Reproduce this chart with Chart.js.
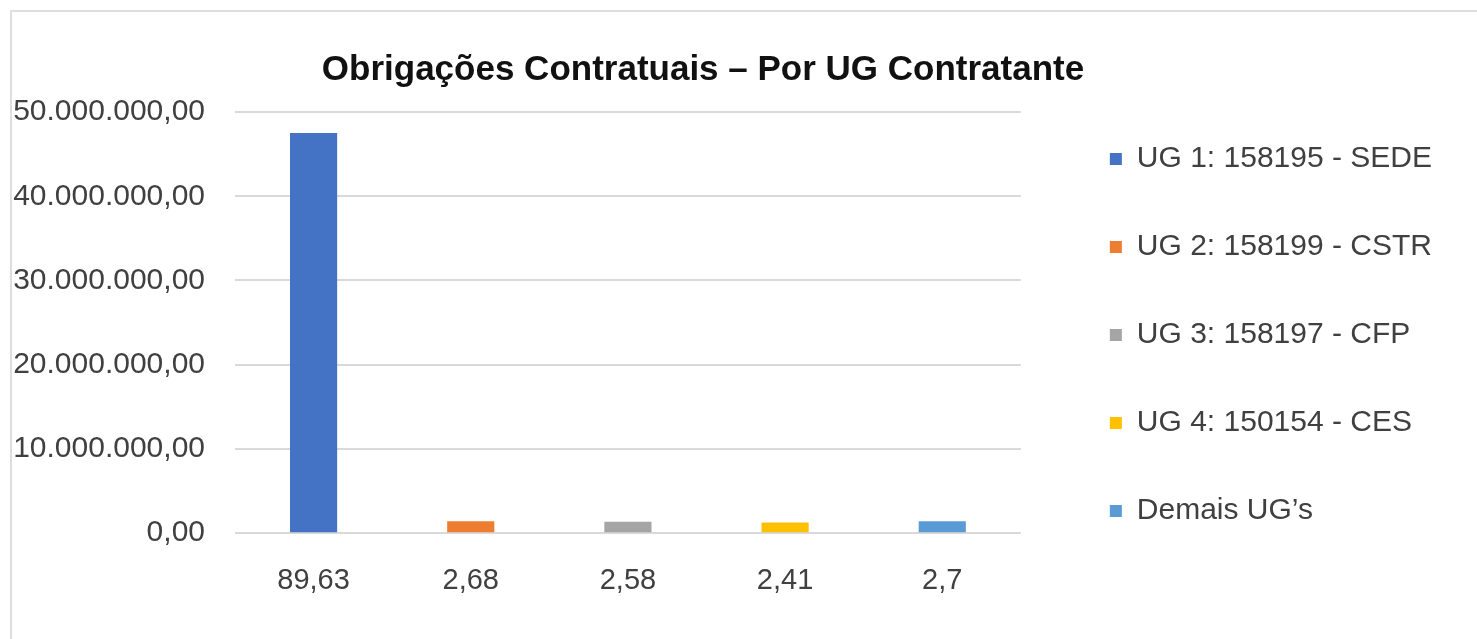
<!DOCTYPE html>
<html lang="pt-BR">
<head>
<meta charset="utf-8">
<title>Obrigações Contratuais – Por UG Contratante</title>
<script src="https://cdn.jsdelivr.net/npm/chart.js@4/dist/chart.umd.min.js"></script>
<style>
	html, body { margin: 0; padding: 0; background: #fff; overflow: hidden; }
	.frame {
		position: absolute; left: 10px; top: 10px;
		width: 1500px; height: 700px;
		border-left: 2px solid #dedede; border-top: 2px solid #dedede;
	}
	#chart_box { position: absolute; left: 0; top: 0; width: 1477px; height: 639px; }
</style>
</head>
<body>
<div class="frame"></div>
<div id="chart_box"><canvas id="ug_chart" width="1477" height="639"></canvas></div>
<script>
// percentage share of each UG (used as x labels)
const categories = ["89,63", "2,68", "2,58", "2,41", "2,7"];
const seriesNames = ["UG 1: 158195 - SEDE", "UG 2: 158199 - CSTR", "UG 3: 158197 - CFP", "UG 4: 150154 - CES", "Demais UG’s"];
const seriesValues = [47500000, 1420000, 1370000, 1280000, 1430000];
const seriesColors = ["#4472C4", "#ED7D31", "#A5A5A5", "#FFC000", "#5B9BD5"];
const yTicks = [0, 10000000, 20000000, 30000000, 40000000, 50000000];

const FONT = "'Liberation Sans', Arial, sans-serif";
const TEXT_COLOR = "#404040";

function formatBR(value) {
	const [intPart, decPart] = Number(value).toFixed(2).split(".");
	return intPart.replace(/\B(?=(\d{3})+(?!\d))/g, ".") + "," + decPart;
}

// each UG is its own series, value only at its own category
const datasets = seriesNames.map((name, i) => ({
	label: name,
	data: categories.map((_, j) => (j === i ? seriesValues[i] : null)),
	backgroundColor: seriesColors[i],
	borderWidth: 0,
	barPercentage: 0.3,
	categoryPercentage: 1.0,
	skipNull: true,
}));

// nudge the title and legend to where the original has them
const placement = {
	id: "placement",
	afterLayout(chart) {
		const lg = chart.legend;
		lg.left += 31; lg.right += 31;
		lg.top += 10; lg.bottom += 10;
		const tb = chart.titleBlock;
		tb.left = 0; tb.right = 1406;
	}
};

const ctx = document.getElementById("ug_chart");
// eslint-disable-next-line no-undef
new Chart(ctx, {
	type: "bar",
	data: { labels: categories, datasets: datasets },
	plugins: [placement],
	options: {
		responsive: false,
		animation: false,
		devicePixelRatio: 1,
		layout: { padding: { left: 10, right: 66, top: 22, bottom: 11 } },
		plugins: {
			title: {
				display: true,
				text: "Obrigações Contratuais – Por UG Contratante",
				color: "#111",
				font: { family: FONT, size: 35, weight: "bold" },
				padding: { top: 27, bottom: 21 },
			},
			legend: {
				display: true,
				position: "right",
				maxWidth: 420,
				labels: {
					color: TEXT_COLOR,
					font: { family: FONT, size: 30 },
					boxWidth: 12,
					boxHeight: 12,
					padding: 58,
				},
			},
			tooltip: { enabled: false },
		},
		scales: {
			x: {
				grid: { display: false, drawTicks: false },
				border: { display: false },
				ticks: { color: TEXT_COLOR, font: { family: FONT, size: 29 }, padding: 30 },
			},
			y: {
				min: yTicks[0],
				max: yTicks[yTicks.length - 1],
				afterBuildTicks: (scale) => { scale.ticks = yTicks.map(v => ({ value: v })); },
				afterFit: (scale) => { scale.width = 225; },
				grid: { color: "#d9d9d9", lineWidth: 2, drawTicks: false },
				border: { display: false },
				ticks: {
					color: TEXT_COLOR,
					font: { family: FONT, size: 30 },
					padding: 30,
					callback: (v) => formatBR(v),
				},
			},
		},
	},
});
</script>
</body>
</html>
